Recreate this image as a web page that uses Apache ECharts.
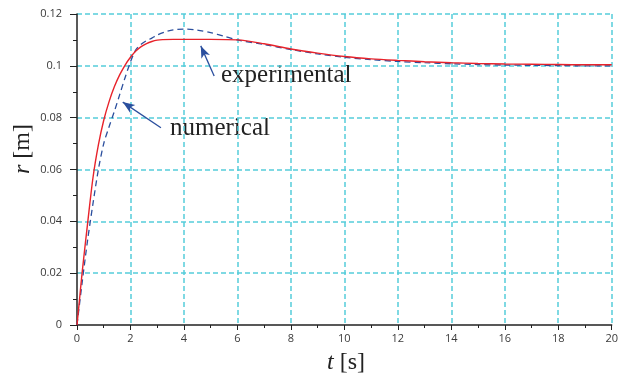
<!DOCTYPE html>
<html>
<head>
<meta charset="utf-8">
<script src="https://cdn.jsdelivr.net/npm/echarts@6/dist/echarts.min.js"></script>
<style>
  html, body { margin: 0; padding: 0; background: #fff; }
  #chart { width: 621px; height: 380px; }
</style>
</head>
<body>
<div id="chart"></div>
<script>
// Numerical solution r(t)
const tNum = [0, 0.1, 0.2, 0.4, 0.6, 0.8, 1.0, 1.2, 1.4, 1.6, 1.8, 2.0, 2.2, 2.4, 2.6, 2.8, 3.0, 3.2, 3.6, 4, 5, 6, 7, 8, 9, 10, 11, 12, 13, 14, 15, 16, 17, 18, 19, 20];
const rNum = [0, 0.0105, 0.021, 0.0395, 0.057, 0.0695, 0.079, 0.0862, 0.092, 0.0966, 0.1003, 0.1033, 0.1057, 0.1074, 0.1086, 0.1094, 0.1099, 0.1101, 0.1102, 0.1102, 0.1102, 0.1100, 0.1085, 0.1065, 0.1049, 0.1036, 0.1027, 0.1021, 0.1016, 0.1012, 0.1009, 0.1007, 0.1006, 0.1005, 0.1004, 0.1004];

// Experimental measurement r(t)
const tExp = [0, 0.2, 0.4, 0.6, 0.8, 1.0, 1.2, 1.4, 1.6, 1.8, 2.0, 2.2, 2.4, 2.6, 2.8, 3.0, 3.3, 3.6, 4.0, 4.5, 5.0, 5.5, 6.0, 7, 8, 9, 10, 11, 12, 13, 14, 15, 16, 17, 18, 19, 20];
const rExp = [0, 0.017, 0.033, 0.047, 0.060, 0.070, 0.0765, 0.0825, 0.0890, 0.0955, 0.1015, 0.1062, 0.1083, 0.1097, 0.1107, 0.1119, 0.1131, 0.1139, 0.1142, 0.1138, 0.1128, 0.1114, 0.1100, 0.1082, 0.1063, 0.1046, 0.1033, 0.1024, 0.1017, 0.1012, 0.1008, 0.1005, 0.1003, 0.1002, 0.1001, 0.1000, 0.1000];

// Annotation arrows: [tail, head] in data coordinates
const arrowExp = [[5.13, 0.0961], [4.63, 0.1077]];
const arrowNum = [[3.14, 0.0761], [1.71, 0.0860]];

const pairs = (xs, ys) => xs.map((x, i) => [x, ys[i]]);

const gridColor = '#55cdda';
const blue = '#2b4f9e';
const red = '#e8232b';
const tickFont = { color: '#3a3a3a', fontSize: 11, fontFamily: 'Open Sans' };

const chart = echarts.init(document.getElementById('chart'), null, { renderer: 'canvas' });

const arrowLine = (a) => ({
  silent: true,
  symbol: ['none', 'arrow'],
  symbolSize: [7, 12],
  label: { show: false },
  lineStyle: { color: blue, width: 1.3, type: 'solid' },
  data: [[{ coord: a[0] }, { coord: a[1] }]]
});

// dashed grid; the min line is covered by the axis itself
const gridLine = { show: true, showMinLine: false, lineStyle: { color: gridColor, type: [5, 3], width: 1.5 } };

chart.setOption({
  animation: false,
  grid: { left: 77, right: 7, top: 14, bottom: 55 },
  xAxis: {
    type: 'value', min: 0, max: 20, interval: 2,
    axisLine: { onZero: false, lineStyle: { color: '#222', width: 1.5 } },
    axisTick: { inside: false, length: 5, lineStyle: { color: '#222' } },
    minorTick: { show: true, splitNumber: 2, length: 3, lineStyle: { color: '#222' } },
    axisLabel: Object.assign({ margin: 8 }, tickFont),
    splitLine: gridLine
  },
  yAxis: {
    type: 'value', min: 0, max: 0.12, interval: 0.02,
    axisLine: { show: true, lineStyle: { color: '#222', width: 1.5 } },
    axisTick: { show: true, inside: false, length: 7, lineStyle: { color: '#222' } },
    minorTick: { show: true, splitNumber: 2, length: 4, lineStyle: { color: '#222' } },
    axisLabel: Object.assign({ margin: 15 }, tickFont),
    splitLine: gridLine
  },
  series: [
    {
      name: 'experimental', type: 'line', data: pairs(tExp, rExp),
      smooth: 0.3, showSymbol: false,
      lineStyle: { color: blue, width: 1.3, type: [6, 4] },
      markLine: arrowLine(arrowExp)
    },
    {
      name: 'numerical', type: 'line', data: pairs(tNum, rNum),
      smooth: 0.3, showSymbol: false,
      lineStyle: { color: red, width: 1.4 },
      markLine: arrowLine(arrowNum)
    }
  ],
  graphic: [
    {
      type: 'text', left: 221, top: 63,
      style: { text: 'experimental', font: '25px "Liberation Serif"', fill: '#222' }
    },
    {
      type: 'text', left: 170, top: 116,
      style: { text: 'numerical', font: '25px "Liberation Serif"', fill: '#222' }
    },
    {
      type: 'text', x: 346, y: 363,
      style: {
        text: '{i|t} [s]', fill: '#222', align: 'center', verticalAlign: 'middle',
        font: '24px "Liberation Serif"',
        rich: { i: { fontStyle: 'italic', fontFamily: 'Liberation Serif', fontSize: 24, fill: '#222' } }
      }
    },
    {
      type: 'text', x: 23, y: 149, rotation: Math.PI / 2,
      style: {
        text: '{i|r} [m]', fill: '#222', align: 'center', verticalAlign: 'middle',
        font: '24px "Liberation Serif"',
        rich: { i: { fontStyle: 'italic', fontFamily: 'Liberation Serif', fontSize: 24, fill: '#222' } }
      }
    }
  ]
});
</script>
</body>
</html>
